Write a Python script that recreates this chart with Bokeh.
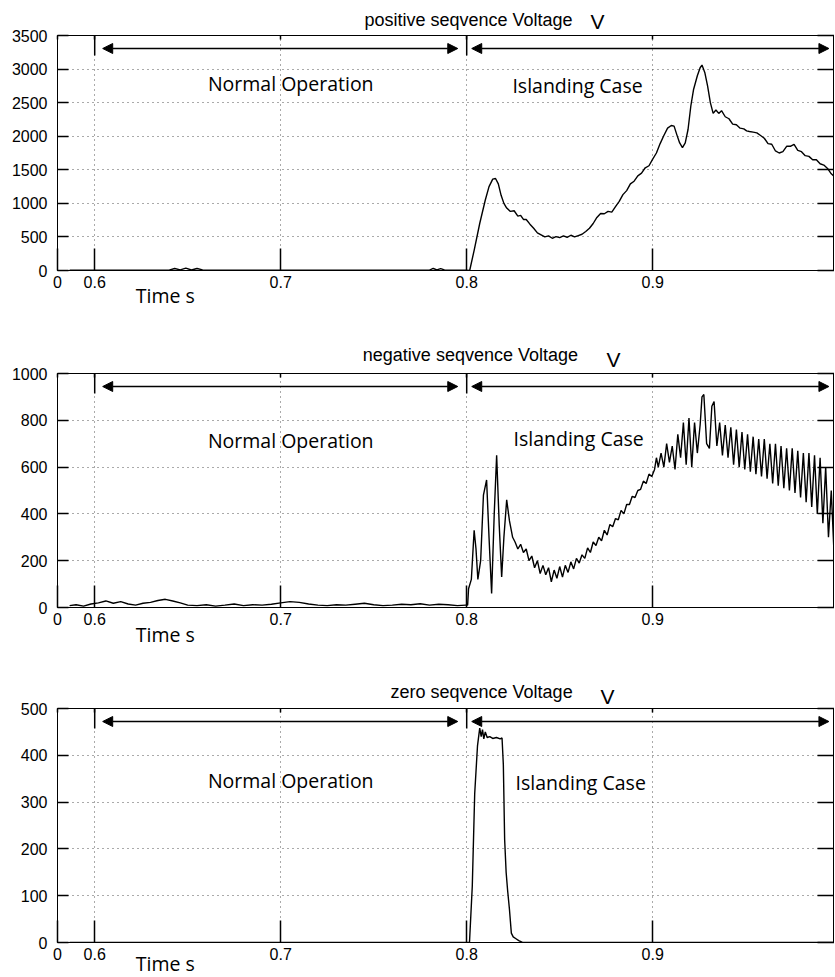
from bokeh.plotting import figure
from bokeh.models import (Label, Arrow, NormalHead, LinearAxis, FixedTicker,
                          Range1d, Grid)
from bokeh.layouts import column
from bokeh.embed import file_html
from bokeh.resources import INLINE

# ---------------- data ----------------
x_ticks = [0.58, 0.6, 0.7, 0.8, 0.9]
x_tick_labels = ["0", "0.6", "0.7", "0.8", "0.9"]
NORMAL_START = 0.6
ISLAND_START = 0.8

pos_t = [0.5865, 0.600, 0.620, 0.640, 0.643, 0.646, 0.649, 0.652, 0.655, 0.658, 0.662,
         0.700, 0.740, 0.780, 0.782, 0.784, 0.786, 0.788, 0.790, 0.7995,
         0.8016, 0.8040, 0.8070, 0.8100, 0.8120, 0.8140, 0.8155, 0.8170, 0.8185, 0.8200,
         0.8215, 0.8235, 0.8255, 0.8275, 0.8290, 0.8305, 0.8320, 0.8340, 0.8360, 0.8380,
         0.8400, 0.8420, 0.8440, 0.8460, 0.8480, 0.8500, 0.8520, 0.8540, 0.8560, 0.8580,
         0.8600, 0.8620, 0.8640, 0.8660, 0.8680, 0.8700, 0.8720, 0.8740, 0.8760, 0.8780,
         0.8800, 0.8820, 0.8840, 0.8860, 0.8880, 0.8900, 0.8920, 0.8940, 0.8960, 0.8980,
         0.9000, 0.9020, 0.9040, 0.9060, 0.9080, 0.9100, 0.9115, 0.9130, 0.9145, 0.9160,
         0.9175, 0.9190, 0.9205, 0.9220, 0.9240, 0.9255, 0.9265, 0.9280, 0.9295, 0.9310,
         0.9325, 0.9340, 0.9355, 0.9370, 0.9390, 0.9410, 0.9430, 0.9450, 0.9470, 0.9490,
         0.9505, 0.9520, 0.9540, 0.9560, 0.9580, 0.9600, 0.9620, 0.9640, 0.9660, 0.9680,
         0.9700, 0.9720, 0.9740, 0.9760, 0.9780, 0.9800, 0.9820, 0.9840, 0.9860, 0.9880,
         0.9900, 0.9920, 0.9940, 0.9960, 0.9980]
pos_v = [5, 5, 5, 5, 30, 10, 35, 8, 30, 10, 5,
         5, 5, 5, 30, 10, 28, 8, 5, 5,
         0, 300, 700, 1050, 1250, 1360, 1370, 1290, 1120, 1000,
         930, 880, 890, 810, 820, 760, 760, 690, 630, 560,
         530, 500, 515, 480, 505, 490, 515, 495, 525, 500,
         520, 540, 580, 630, 700, 790, 850, 845, 880, 870,
         950, 1030, 1130, 1190, 1290, 1330, 1410, 1450, 1530, 1560,
         1660, 1750, 1890, 2010, 2120, 2160, 2150, 2020, 1900, 1830,
         1900, 2100, 2450, 2700, 2900, 3020, 3060, 2950, 2750, 2500,
         2340, 2390, 2340, 2380, 2290, 2260, 2180, 2170, 2120, 2110,
         2080, 2070, 2060, 2050, 2010, 1970, 1890, 1880, 1780, 1750,
         1770, 1850, 1850, 1880, 1790, 1770, 1710, 1700, 1650, 1650,
         1590, 1570, 1520, 1440, 1390]

neg_t = [0.5865, 0.590, 0.594, 0.598, 0.602, 0.606, 0.610, 0.614, 0.618, 0.622, 0.626,
         0.630, 0.634, 0.638, 0.642, 0.646, 0.650, 0.655, 0.660, 0.665, 0.670, 0.675,
         0.680, 0.685, 0.690, 0.695, 0.700, 0.705, 0.710, 0.715, 0.720, 0.725, 0.730,
         0.735, 0.740, 0.745, 0.750, 0.755, 0.760, 0.765, 0.770, 0.775, 0.780, 0.785,
         0.790, 0.795, 0.7995,
         0.8005, 0.8010, 0.8025, 0.8040, 0.8050, 0.8060, 0.8075, 0.8090, 0.8107, 0.8120,
         0.8134, 0.8148, 0.8161, 0.8175, 0.8188, 0.8200, 0.8215, 0.8230, 0.8247, 0.8260,
         0.8275, 0.8290, 0.8305, 0.8320, 0.8335, 0.8350, 0.8365, 0.8380, 0.8395, 0.8410,
         0.8425, 0.8440, 0.8455, 0.8470, 0.8485, 0.8500, 0.8515, 0.8530, 0.8545, 0.8560,
         0.8575, 0.8590, 0.8605, 0.8620, 0.8635, 0.8650, 0.8665, 0.8680, 0.8695, 0.8710,
         0.8725, 0.8740, 0.8755, 0.8770, 0.8785, 0.8800, 0.8815, 0.8830, 0.8845, 0.8860,
         0.8875, 0.8890, 0.8905, 0.8920, 0.8935, 0.8950, 0.8965, 0.8980, 0.8995,
         0.9010, 0.9020, 0.9030, 0.9045, 0.9060, 0.9075, 0.9090, 0.9105, 0.9120, 0.9135,
         0.9150, 0.9165, 0.9180, 0.9195, 0.9210, 0.9225, 0.9240, 0.9255, 0.9265, 0.9275,
         0.9290, 0.9305, 0.9318, 0.9330, 0.9345, 0.9360, 0.9375, 0.9390, 0.9405, 0.9420,
         0.9435, 0.9450, 0.9465, 0.9480, 0.9495, 0.9510, 0.9525, 0.9540, 0.9555, 0.9570,
         0.9585, 0.9600, 0.9615, 0.9630, 0.9645, 0.9660, 0.9675, 0.9690, 0.9705, 0.9720,
         0.9735, 0.9750, 0.9765, 0.9780, 0.9795, 0.9810, 0.9825, 0.9840, 0.9855, 0.9870,
         0.9885, 0.9900, 0.9915, 0.9930, 0.9945, 0.9960, 0.9975, 0.9985]
neg_v = [8, 12, 6, 15, 20, 28, 18, 25, 15, 10, 18,
         22, 30, 35, 28, 20, 10, 8, 12, 6, 10, 15,
         8, 12, 10, 14, 20, 25, 22, 15, 10, 8, 12,
         10, 14, 18, 12, 8, 10, 14, 12, 16, 10, 14,
         12, 8, 10,
         10, 80, 120, 330, 250, 120, 200, 480, 545, 300,
         60, 400, 650, 350, 130, 300, 460, 370, 300, 280,
         250, 270, 235, 250, 200, 220, 170, 200, 145, 180,
         140, 170, 110, 160, 125, 175, 130, 180, 150, 195,
         165, 210, 190, 225, 210, 255, 235, 280, 265, 300,
         285, 330, 310, 355, 345, 380, 375, 415, 400, 440,
         440, 475, 470, 500, 505, 540, 530, 570, 560,
         590, 640, 600, 660, 600, 700, 620, 690, 590, 740,
         640, 790, 610, 810, 600, 790, 660, 780, 900, 910,
         700, 680, 860, 880, 690, 790, 650, 780, 640, 770,
         610, 760, 600, 750, 590, 740, 580, 730, 570, 720,
         560, 720, 550, 700, 530, 700, 520, 690, 510, 680,
         500, 680, 490, 670, 470, 660, 450, 660, 430, 650,
         400, 640, 360, 600, 300, 500, 230, 220]

zero_t = [0.5865, 0.700, 0.8015, 0.8030, 0.8043, 0.8058, 0.8070, 0.8078, 0.8085, 0.8092,
          0.8100, 0.8110, 0.8124, 0.8140, 0.8160, 0.8180, 0.8190, 0.8197, 0.8204, 0.8212,
          0.8220, 0.8230, 0.8240, 0.8250, 0.8265, 0.8280, 0.8300, 0.8400, 0.9000, 0.9980]
zero_v = [0, 0, 0, 120, 318, 420, 458, 440, 455, 435,
          450, 438, 440, 436, 438, 435, 437, 380, 220, 150,
          111, 70, 20, 12, 8, 4, 0, 0, 0, 0]

panels = [
    dict(t=pos_t, v=pos_v, ymax=3500, ystep=500, title="positive seqvence Voltage",
         title_x=0.801, title_so=-23, v_x=0.8703, v_so=3, bt=35, bb=70, fh=235,
         normal_dy=48, island_x=0.8596, island_dy=50, time_so=-9),
    dict(t=neg_t, v=neg_v, ymax=1000, ystep=200, title="negative seqvence Voltage",
         title_x=0.802, title_so=-20, v_x=0.8789, v_so=3, bt=33, bb=70, fh=234,
         normal_dy=67, island_x=0.8602, island_dy=65, time_so=-7),
    dict(t=zero_t, v=zero_v, ymax=500, ystep=100, title="zero seqvence Voltage",
         title_x=0.808, title_so=-20, v_x=0.8757, v_so=1, bt=31, bb=35, fh=234,
         normal_dy=72, island_x=0.8613, island_dy=74, time_so=-13),
]

TICK_FONT = "Liberation Sans"
ANN_FONT = "Open Sans"
FRAME_W = 777
X_END = 0.58 + FRAME_W / 1860.0


def text_axis(x, text, font, size, standoff):
    """An axis used only to carry one text outside the frame."""
    return LinearAxis(ticker=FixedTicker(ticks=[x], minor_ticks=[]),
                      major_label_overrides={x: text},
                      major_tick_in=0, major_tick_out=0, major_tick_line_color=None,
                      axis_line_color=None, major_label_standoff=standoff,
                      major_label_text_font=font, major_label_text_font_size=size,
                      major_label_text_color="black")


def make_panel(d):
    fh = d["fh"]
    ymax = d["ymax"]
    p = figure(frame_width=FRAME_W, frame_height=fh,
               x_range=Range1d(0.58, X_END), y_range=Range1d(0, ymax),
               x_axis_type=None, y_axis_type=None,
               output_backend="svg", toolbar_location=None,
               min_border_left=57, min_border_right=0,
               min_border_top=d["bt"], min_border_bottom=d["bb"])
    p.outline_line_color = "black"
    p.outline_line_width = 1
    p.background_fill_color = "white"
    p.border_fill_color = "white"

    xt = FixedTicker(ticks=x_ticks, minor_ticks=[])
    yt = FixedTicker(ticks=list(range(0, ymax + 1, d["ystep"])), minor_ticks=[])

    xb = LinearAxis(ticker=xt, major_label_overrides=dict(zip(x_ticks, x_tick_labels)),
                    major_tick_in=22, major_tick_out=0, major_label_standoff=5,
                    major_label_text_font=TICK_FONT, major_label_text_font_size="16px",
                    major_label_text_color="black",
                    axis_line_color="black", major_tick_line_color="black",
                    major_tick_line_width=1.5)
    p.add_layout(xb, "below")
    p.add_layout(text_axis(0.638, "Time s", ANN_FONT, "19.5px", d["time_so"]), "below")

    xtop = LinearAxis(ticker=xt, major_tick_in=4, major_tick_out=0,
                      major_label_text_font_size="0px", major_label_text_color=None,
                      major_label_standoff=0,
                      axis_line_color="black", major_tick_line_color="black",
                      major_tick_line_width=1.5)
    p.add_layout(xtop, "above")
    p.add_layout(text_axis(d["v_x"], "V", TICK_FONT, "21px", d["v_so"]), "above")
    p.add_layout(text_axis(d["title_x"], d["title"], TICK_FONT, "18px", d["title_so"]), "above")

    yl = LinearAxis(ticker=yt, major_tick_in=11, major_tick_out=0, major_label_standoff=10,
                    major_label_text_font=TICK_FONT, major_label_text_font_size="16px",
                    major_label_text_color="black",
                    axis_line_color="black", major_tick_line_color="black",
                    major_tick_line_width=1.5)
    p.add_layout(yl, "left")
    yr = LinearAxis(ticker=yt, major_tick_in=17, major_tick_out=0,
                    major_label_text_font_size="0px", major_label_text_color=None,
                    major_label_standoff=0,
                    axis_line_color="black", major_tick_line_color="black",
                    major_tick_line_width=1.5)
    p.add_layout(yr, "right")

    for dim, tk in ((0, xt), (1, yt)):
        g = Grid(dimension=dim, ticker=tk, grid_line_color="#555555",
                 grid_line_dash="1 4", grid_line_width=1)
        p.add_layout(g)

    # curve
    p.line(d["t"], d["v"], line_color="black", line_width=1.4)

    # event markers and arrows
    bar_bottom = ymax * (1 - 20 / fh)
    p.segment(x0=[NORMAL_START, ISLAND_START], y0=[ymax, ymax],
              x1=[NORMAL_START, ISLAND_START], y1=[bar_bottom, bar_bottom],
              line_color="black", line_width=1.5)
    ya = ymax * (1 - 13 / fh)
    for xs, xe in ((0.6043, 0.7952), (0.8027, X_END - 0.003)):
        p.add_layout(Arrow(start=NormalHead(size=10, fill_color="black", line_color="black"),
                           end=NormalHead(size=10, fill_color="black", line_color="black"),
                           x_start=xs, x_end=xe, y_start=ya, y_end=ya,
                           line_color="black", line_width=1.5))

    # in-frame texts
    p.add_layout(Label(x=0.7054, y=fh - d["normal_dy"], y_units="screen",
                       text="Normal Operation", text_align="center", text_baseline="middle",
                       text_font=ANN_FONT, text_font_size="19.5px", text_color="black"))
    p.add_layout(Label(x=d["island_x"], y=fh - d["island_dy"], y_units="screen",
                       text="Islanding Case", text_align="center", text_baseline="middle",
                       text_font=ANN_FONT, text_font_size="19.5px", text_color="black"))
    return p


figs = [make_panel(d) for d in panels]
layout = column(*figs, spacing=0)
open("out.html", "w").write(file_html(layout, INLINE))
